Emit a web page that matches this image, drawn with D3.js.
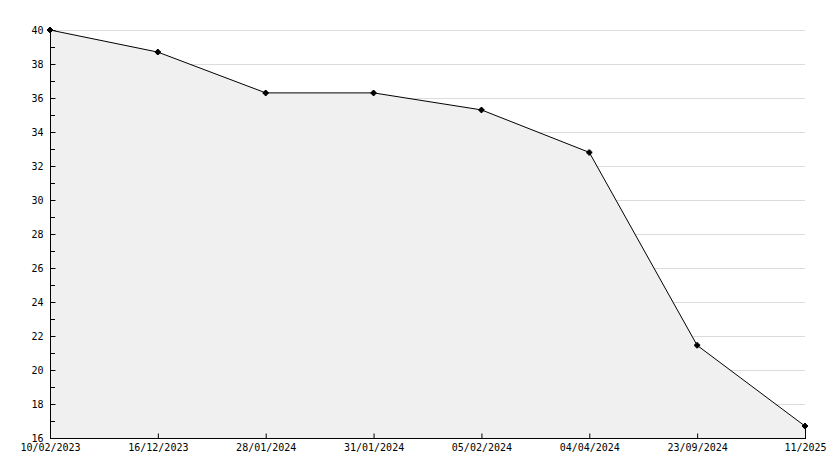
<!DOCTYPE html>
<html><head><meta charset="utf-8">
<script src="https://cdn.jsdelivr.net/npm/d3@7"></script>
<style>body{margin:0;background:#fff}svg{display:block}</style>
</head><body>
<svg id="c" width="834" height="468"></svg>
<script>
const categories = ["10/02/2023","16/12/2023","28/01/2024","31/01/2024","05/02/2024","04/04/2024","23/09/2024","11/2025"];
const values = [40, 38.7, 36.3, 36.3, 35.3, 32.8, 21.45, 16.7];
const yTicks = [16,18,20,22,24,26,28,30,32,34,36,38,40];
const yMinor = [17,19,21,23,25,27,29,31,33,35,37,39];

const svg = d3.select("#c");
const m = {l:50, r:805, t:30, b:438};
const x = d3.scalePoint().domain(categories).range([m.l, m.r]);
const y = d3.scaleLinear().domain([16,40]).range([m.b, m.t]);
const data = categories.map((c,i)=>({c, v:values[i]}));
const font = "'DejaVu Sans Mono', monospace";

// grid
svg.append("g").selectAll("line").data(yTicks.filter(t=>t>16)).join("line")
  .attr("x1", m.l).attr("x2", m.r).attr("y1", d=>y(d)+0.5).attr("y2", d=>y(d)+0.5)
  .attr("stroke", "#dcdcdc").attr("stroke-width", 1);

// area
svg.append("path").datum(data)
  .attr("d", d3.area().x(d=>x(d.c)).y0(y(16)).y1(d=>y(d.v)))
  .attr("fill", "#f0f0f0");

// right edge
svg.append("line").attr("x1", x(categories[categories.length-1])+0.5).attr("x2", x(categories[categories.length-1])+0.5)
  .attr("y1", y(values[values.length-1])).attr("y2", m.b).attr("stroke","#000");

// line
svg.append("path").datum(data)
  .attr("d", d3.line().x(d=>x(d.c)).y(d=>y(d.v)))
  .attr("fill","none").attr("stroke","#000").attr("stroke-width",1);

// axes
const yAxis = svg.append("g").attr("transform", `translate(${m.l+0.5},0)`)
  .call(d3.axisLeft(y).tickValues(yTicks).tickSize(-5).tickPadding(7).tickFormat(d3.format("d")));
yAxis.select(".domain").attr("d", `M0,${m.t-2}V${m.b}`);
yAxis.selectAll("text").attr("font-family", font).attr("font-size", 10).attr("fill","#000");
svg.append("g").selectAll("line").data(yMinor).join("line")
  .attr("x1", m.l).attr("x2", m.l+5).attr("y1", d=>y(d)+0.5).attr("y2", d=>y(d)+0.5).attr("stroke","#000");

const xAxis = svg.append("g").attr("transform", `translate(0,${m.b+0.5})`)
  .call(d3.axisBottom(x).tickSize(-5).tickPadding(5));
xAxis.select(".domain").attr("d", `M${m.l},0H${m.r+1}`);
xAxis.selectAll("text").attr("font-family", font).attr("font-size", 10).attr("fill","#000");

// markers
const starPath = "M-3,-1 L-1,-1 L-1,-3 L1,-3 L1,-1 L3,-1 L3,1 L1,1 L1,3 L-1,3 L-1,1 L-3,1 Z";
svg.append("g").selectAll("g").data(data).join("g")
  .attr("transform", d=>`translate(${x(d.c)},${y(d.v)})`)
  .call(g=>{
    g.append("path").attr("d", starPath).attr("fill","#000");
    g.append("rect").attr("x",-2).attr("y",-2).attr("width",4).attr("height",4).attr("fill","#000");
  });
</script>
</body></html>
